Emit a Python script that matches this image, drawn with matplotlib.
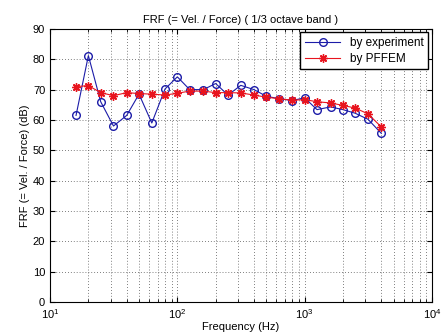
import numpy as np
import matplotlib.pyplot as plt

plt.rcParams['font.family'] = ['Liberation Sans', 'DejaVu Sans']

freq = [16, 20, 25, 31.5, 40, 50, 63, 80, 100, 125, 160, 200, 250, 315, 400,
        500, 630, 800, 1000, 1250, 1600, 2000, 2500, 3150, 4000]
experiment = [61.5, 81.2, 66.0, 58.0, 61.5, 68.5, 59.0, 70.2, 74.2, 70.0, 70.0,
              72.0, 68.2, 71.4, 70.0, 67.8, 67.0, 66.4, 67.3, 63.4, 64.3, 63.4,
              62.2, 60.2, 55.6]
pffem = [71.0, 71.3, 69.0, 68.0, 69.0, 68.7, 68.5, 68.2, 68.8, 69.5, 69.5,
         69.0, 69.0, 68.9, 68.2, 67.5, 67.0, 66.5, 66.7, 66.0, 65.6, 64.8,
         63.9, 62.0, 57.7]

fig = plt.figure(figsize=(4.43, 3.36), dpi=100)
ax = fig.add_axes([0.113, 0.101, 0.862, 0.813])

ax.semilogx(freq, experiment, '-o', color='#1c1ca8', markerfacecolor='none',
            markersize=5.5, linewidth=0.8, label='by experiment')
ax.semilogx(freq, pffem, '-', marker=(8, 2, 0), color='#e8141e', markersize=6,
            markeredgewidth=1.0, linewidth=0.8, label='by PFFEM')

ax.set_xlim(10, 1e4)
ax.set_ylim(0, 90)
ax.set_yticks(np.arange(0, 91, 10))
ax.grid(True, which='major', color='#555555', linestyle=(0, (1, 2.5)), linewidth=0.6)
ax.grid(True, which='minor', axis='x', color='#555555', linestyle=(0, (1, 2.5)), linewidth=0.6)
ax.tick_params(which='both', direction='in', top=True, right=True, labelsize=8)
ax.tick_params(which='minor', length=2)

ax.set_title('FRF (= Vel. / Force) ( 1/3 octave band )', fontsize=8, pad=4)
ax.set_xlabel('Frequency (Hz)', fontsize=8, labelpad=1)
ax.set_ylabel('FRF (= Vel. / Force) (dB)', fontsize=8, labelpad=2)
ax.legend(loc='upper right', fontsize=8.5, fancybox=False, edgecolor='black',
          borderaxespad=0.3, handlelength=3.0, labelspacing=0.3,
          framealpha=1)

fig.savefig('out.png', dpi=100)
